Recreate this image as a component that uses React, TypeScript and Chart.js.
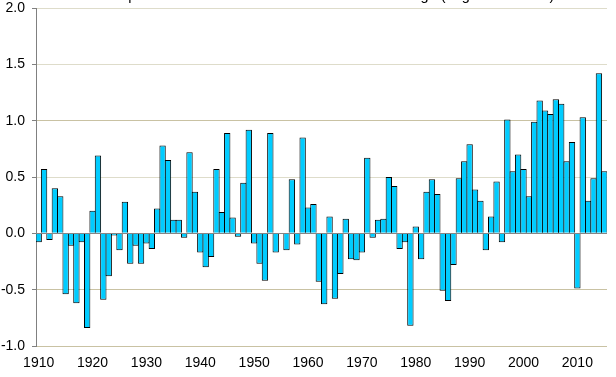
import React, { useEffect, useRef } from "react";
import { Chart, registerables } from "chart.js";

Chart.register(...registerables);

const TITLE = "Mean temperature difference from the 1961-1990 average (degrees Celsius)";

const YEARS = [
  1910, 1911, 1912, 1913, 1914, 1915, 1916, 1917, 1918, 1919,
  1920, 1921, 1922, 1923, 1924, 1925, 1926, 1927, 1928, 1929,
  1930, 1931, 1932, 1933, 1934, 1935, 1936, 1937, 1938, 1939,
  1940, 1941, 1942, 1943, 1944, 1945, 1946, 1947, 1948, 1949,
  1950, 1951, 1952, 1953, 1954, 1955, 1956, 1957, 1958, 1959,
  1960, 1961, 1962, 1963, 1964, 1965, 1966, 1967, 1968, 1969,
  1970, 1971, 1972, 1973, 1974, 1975, 1976, 1977, 1978, 1979,
  1980, 1981, 1982, 1983, 1984, 1985, 1986, 1987, 1988, 1989,
  1990, 1991, 1992, 1993, 1994, 1995, 1996, 1997, 1998, 1999,
  2000, 2001, 2002, 2003, 2004, 2005, 2006, 2007, 2008, 2009,
  2010, 2011, 2012, 2013, 2014, 2015,
];

const ANOMALY = [
  -0.08, 0.57, -0.06, 0.40, 0.33, -0.54, -0.11, -0.62, -0.08, -0.84,
  0.20, 0.69, -0.59, -0.38, -0.02, -0.15, 0.28, -0.27, -0.11, -0.27,
  -0.09, -0.14, 0.22, 0.78, 0.65, 0.12, 0.12, -0.04, 0.72, 0.37,
  -0.17, -0.30, -0.21, 0.57, 0.19, 0.89, 0.14, -0.03, 0.45, 0.92,
  -0.09, -0.27, -0.42, 0.89, -0.17, 0.00, -0.15, 0.48, -0.10, 0.85,
  0.23, 0.26, -0.43, -0.63, 0.15, -0.58, -0.36, 0.13, -0.23, -0.24,
  -0.17, 0.67, -0.04, 0.12, 0.13, 0.50, 0.42, -0.14, -0.08, -0.82,
  0.06, -0.23, 0.37, 0.48, 0.35, -0.51, -0.60, -0.28, 0.49, 0.64,
  0.79, 0.39, 0.29, -0.15, 0.15, 0.46, -0.08, 1.01, 0.55, 0.70,
  0.57, 0.33, 0.99, 1.18, 1.09, 1.06, 1.19, 1.15, 0.64, 0.81,
  -0.49, 1.03, 0.29, 0.49, 1.42, 0.55,
];

const Y_MIN = -1.0;
const Y_MAX = 2.0;
const Y_STEP = 0.5;
const DARK_GRID_VALUES = [1.0, -0.5, -1.0];

const FONT_FAMILY = 'Arial, "Liberation Sans", sans-serif';

const zeroLinePlugin = {
  id: "zeroLine",
  afterDatasetsDraw(chart: any) {
    const { ctx, chartArea, scales } = chart;
    const py = Math.round(scales.y.getPixelForValue(0)) + 0.5;
    ctx.save();
    ctx.strokeStyle = "#868686";
    ctx.lineWidth = 1;
    ctx.beginPath();
    ctx.moveTo(chartArea.left, py);
    ctx.lineTo(chartArea.right, py);
    ctx.stroke();
    ctx.restore();
  },
};

const clippedTitlePlugin = {
  id: "clippedTitle",
  afterDraw(chart: any) {
    const { ctx } = chart;
    ctx.save();
    ctx.font = `14.5px ${FONT_FAMILY}`;
    ctx.fillStyle = "#000";
    ctx.textAlign = "center";
    ctx.textBaseline = "alphabetic";
    ctx.fillText(TITLE, chart.width / 2 + 1, 0);
    ctx.restore();
  },
};

export default function App() {
  const canvasRef = useRef<HTMLCanvasElement | null>(null);

  useEffect(() => {
    document.body.style.margin = "0";
    const canvas = canvasRef.current;
    if (!canvas) return;
    const chart = new Chart(canvas, {
      type: "bar",
      data: {
        labels: YEARS.map(String),
        datasets: [
          {
            data: ANOMALY,
            backgroundColor: "#00CCFF",
            borderColor: "#000000",
            borderWidth: 1,
            borderSkipped: "start",
            barPercentage: 1.18,
            categoryPercentage: 1,
          },
        ],
      },
      options: {
        animation: false,
        responsive: false,
        devicePixelRatio: 1,
        layout: { padding: { top: 0, right: 9, bottom: 0, left: 0 } },
        plugins: {
          legend: { display: false },
          title: { display: false },
          tooltip: { enabled: false },
        },
        scales: {
          x: {
            grid: { display: false, drawTicks: false },
            border: { display: false },
            ticks: {
              autoSkip: false,
              maxRotation: 0,
              minRotation: 0,
              padding: 9,
              color: "#000",
              font: { family: FONT_FAMILY, size: 14 },
              callback: (_v: any, i: number) =>
                YEARS[i] % 10 === 0 ? String(YEARS[i]) : "",
            },
            afterFit: (scale: any) => {
              scale.height = 31;
              scale.paddingLeft = 0;
              scale.paddingRight = 0;
            },
          },
          y: {
            min: Y_MIN,
            max: Y_MAX,
            border: { display: true, color: "#808080", width: 1 },
            grid: {
              drawTicks: true,
              tickLength: 4,
              tickColor: "#808080",
              color: (ctx: any) => {
                const v = ctx.tick ? ctx.tick.value : null;
                if (v === 0) return "#868686";
                if (v !== null && DARK_GRID_VALUES.some((d) => Math.abs(d - v) < 1e-9))
                  return "#c9c2a3";
                return "#dedcca";
              },
            },
            ticks: {
              stepSize: Y_STEP,
              padding: 7,
              color: "#000",
              font: { family: FONT_FAMILY, size: 14, lineHeight: 1.15 },
              callback: (v: any) => Number(v).toFixed(1),
            },
            afterFit: (scale: any) => {
              scale.width = 36;
              scale.paddingTop = 8;
              scale.paddingBottom = 0;
            },
          },
        },
      },
      plugins: [zeroLinePlugin, clippedTitlePlugin],
    });
    return () => chart.destroy();
  }, []);

  return (
    <div style={{ width: 616, height: 377 }}>
      <canvas ref={canvasRef} width={616} height={377} />
    </div>
  );
}
